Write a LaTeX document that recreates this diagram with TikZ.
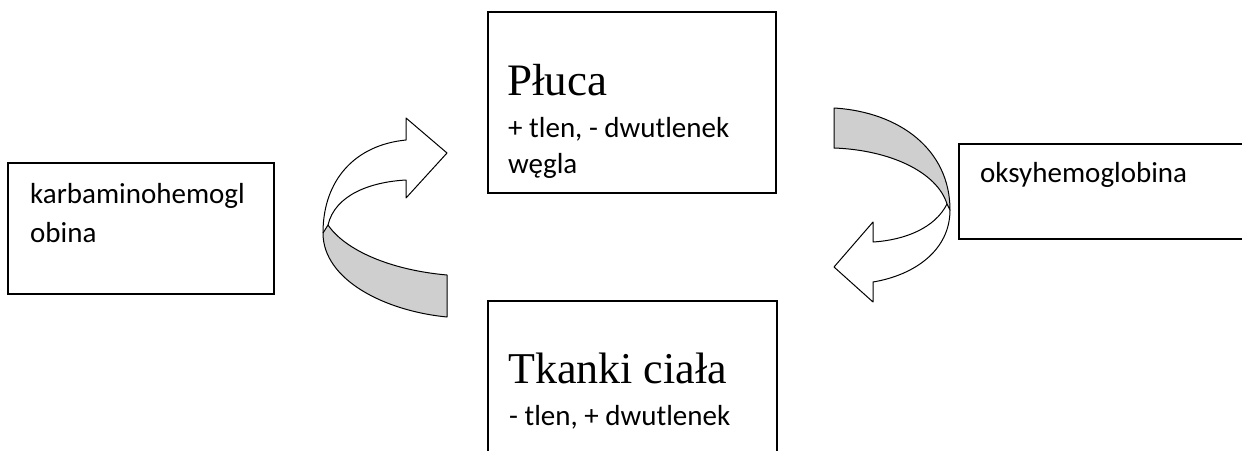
\documentclass[tikz,border=0pt]{standalone}
\usepackage{fontspec}
\setmainfont{Carlito}
\newfontfamily\headfont{Liberation Serif}
\begin{document}
\begin{tikzpicture}[x=1pt,y=-1pt,
  box/.style={draw=black,line width=1.6pt,rectangle,inner sep=0pt},
  lbl/.style={anchor=base west,inner sep=0pt,font=\fontsize{29}{35}\selectfont},
  head/.style={anchor=base west,inner sep=0pt,font=\headfont\fontsize{45}{54}\selectfont},
  band/.style={draw=black,line width=1pt,line join=round},
  back/.style={band,fill=black!19}]
\useasboundingbox (0,0) rectangle (1242,450);
\clip (0,0) rectangle (1242,450);
% boxes
\node[box,minimum width=266pt,minimum height=131pt] (kbox) at (141,228.5) {};
\node[box,minimum width=288pt,minimum height=181pt] (pbox) at (632,102.5) {};
\node[box,minimum width=289pt,minimum height=180pt] (tbox) at (632.5,391) {};
\node[box,minimum width=300pt,minimum height=95pt] (obox) at (1109,191.5) {};
% texts
\node[lbl] (k1) at (30,203) {karbaminohemogl};
\node[lbl] (k2) at (30,242) {obina};
\node[head] (p1) at (507,95) {Płuca};
\node[lbl] (p2) at (508,137) {+ tlen, - dwutlenek};
\node[lbl] (p3) at (508,173) {węgla};
\node[head,font=\headfont\fontsize{44}{52}\selectfont] (t1) at (508,383) {Tkanki ciała};
\node[lbl] (t2) at (509,425) {- tlen, + dwutlenek};
\node[lbl] (o1) at (980,182) {oksyhemoglobina};
% left curved arrow
\coordinate (la1) at (447,317);
\coordinate (la2) at (447,275);
\coordinate (la3) at (328,225);
\coordinate (la4) at (323,233);
\path[back] (la2) .. controls (390,270) and (345,250) .. (la3) -- (la4)
  .. controls (323,280) and (385,311) .. (la1) -- cycle;
\draw[band] (la4) .. controls (323,180) and (355,145) .. (406,140)
  -- (406,118) -- (447,153) -- (406,198) -- (406,180)
  .. controls (370,182) and (335,195) .. (la3);
% right curved arrow
\coordinate (ra1) at (834,108);
\coordinate (ra2) at (834,148);
\coordinate (ra3) at (950,210);
\coordinate (ra4) at (947,204);
\path[back] (ra1) .. controls (900,112) and (950,150) .. (ra3) -- (ra4)
  .. controls (937,172) and (890,150) .. (ra2) -- cycle;
\draw[band] (ra3) .. controls (950,250) and (915,275) .. (873,282)
  -- (873,302) -- (834,267) -- (873,222) -- (873,242)
  .. controls (905,240) and (935,228) .. (ra4);
\end{tikzpicture}
\end{document}
